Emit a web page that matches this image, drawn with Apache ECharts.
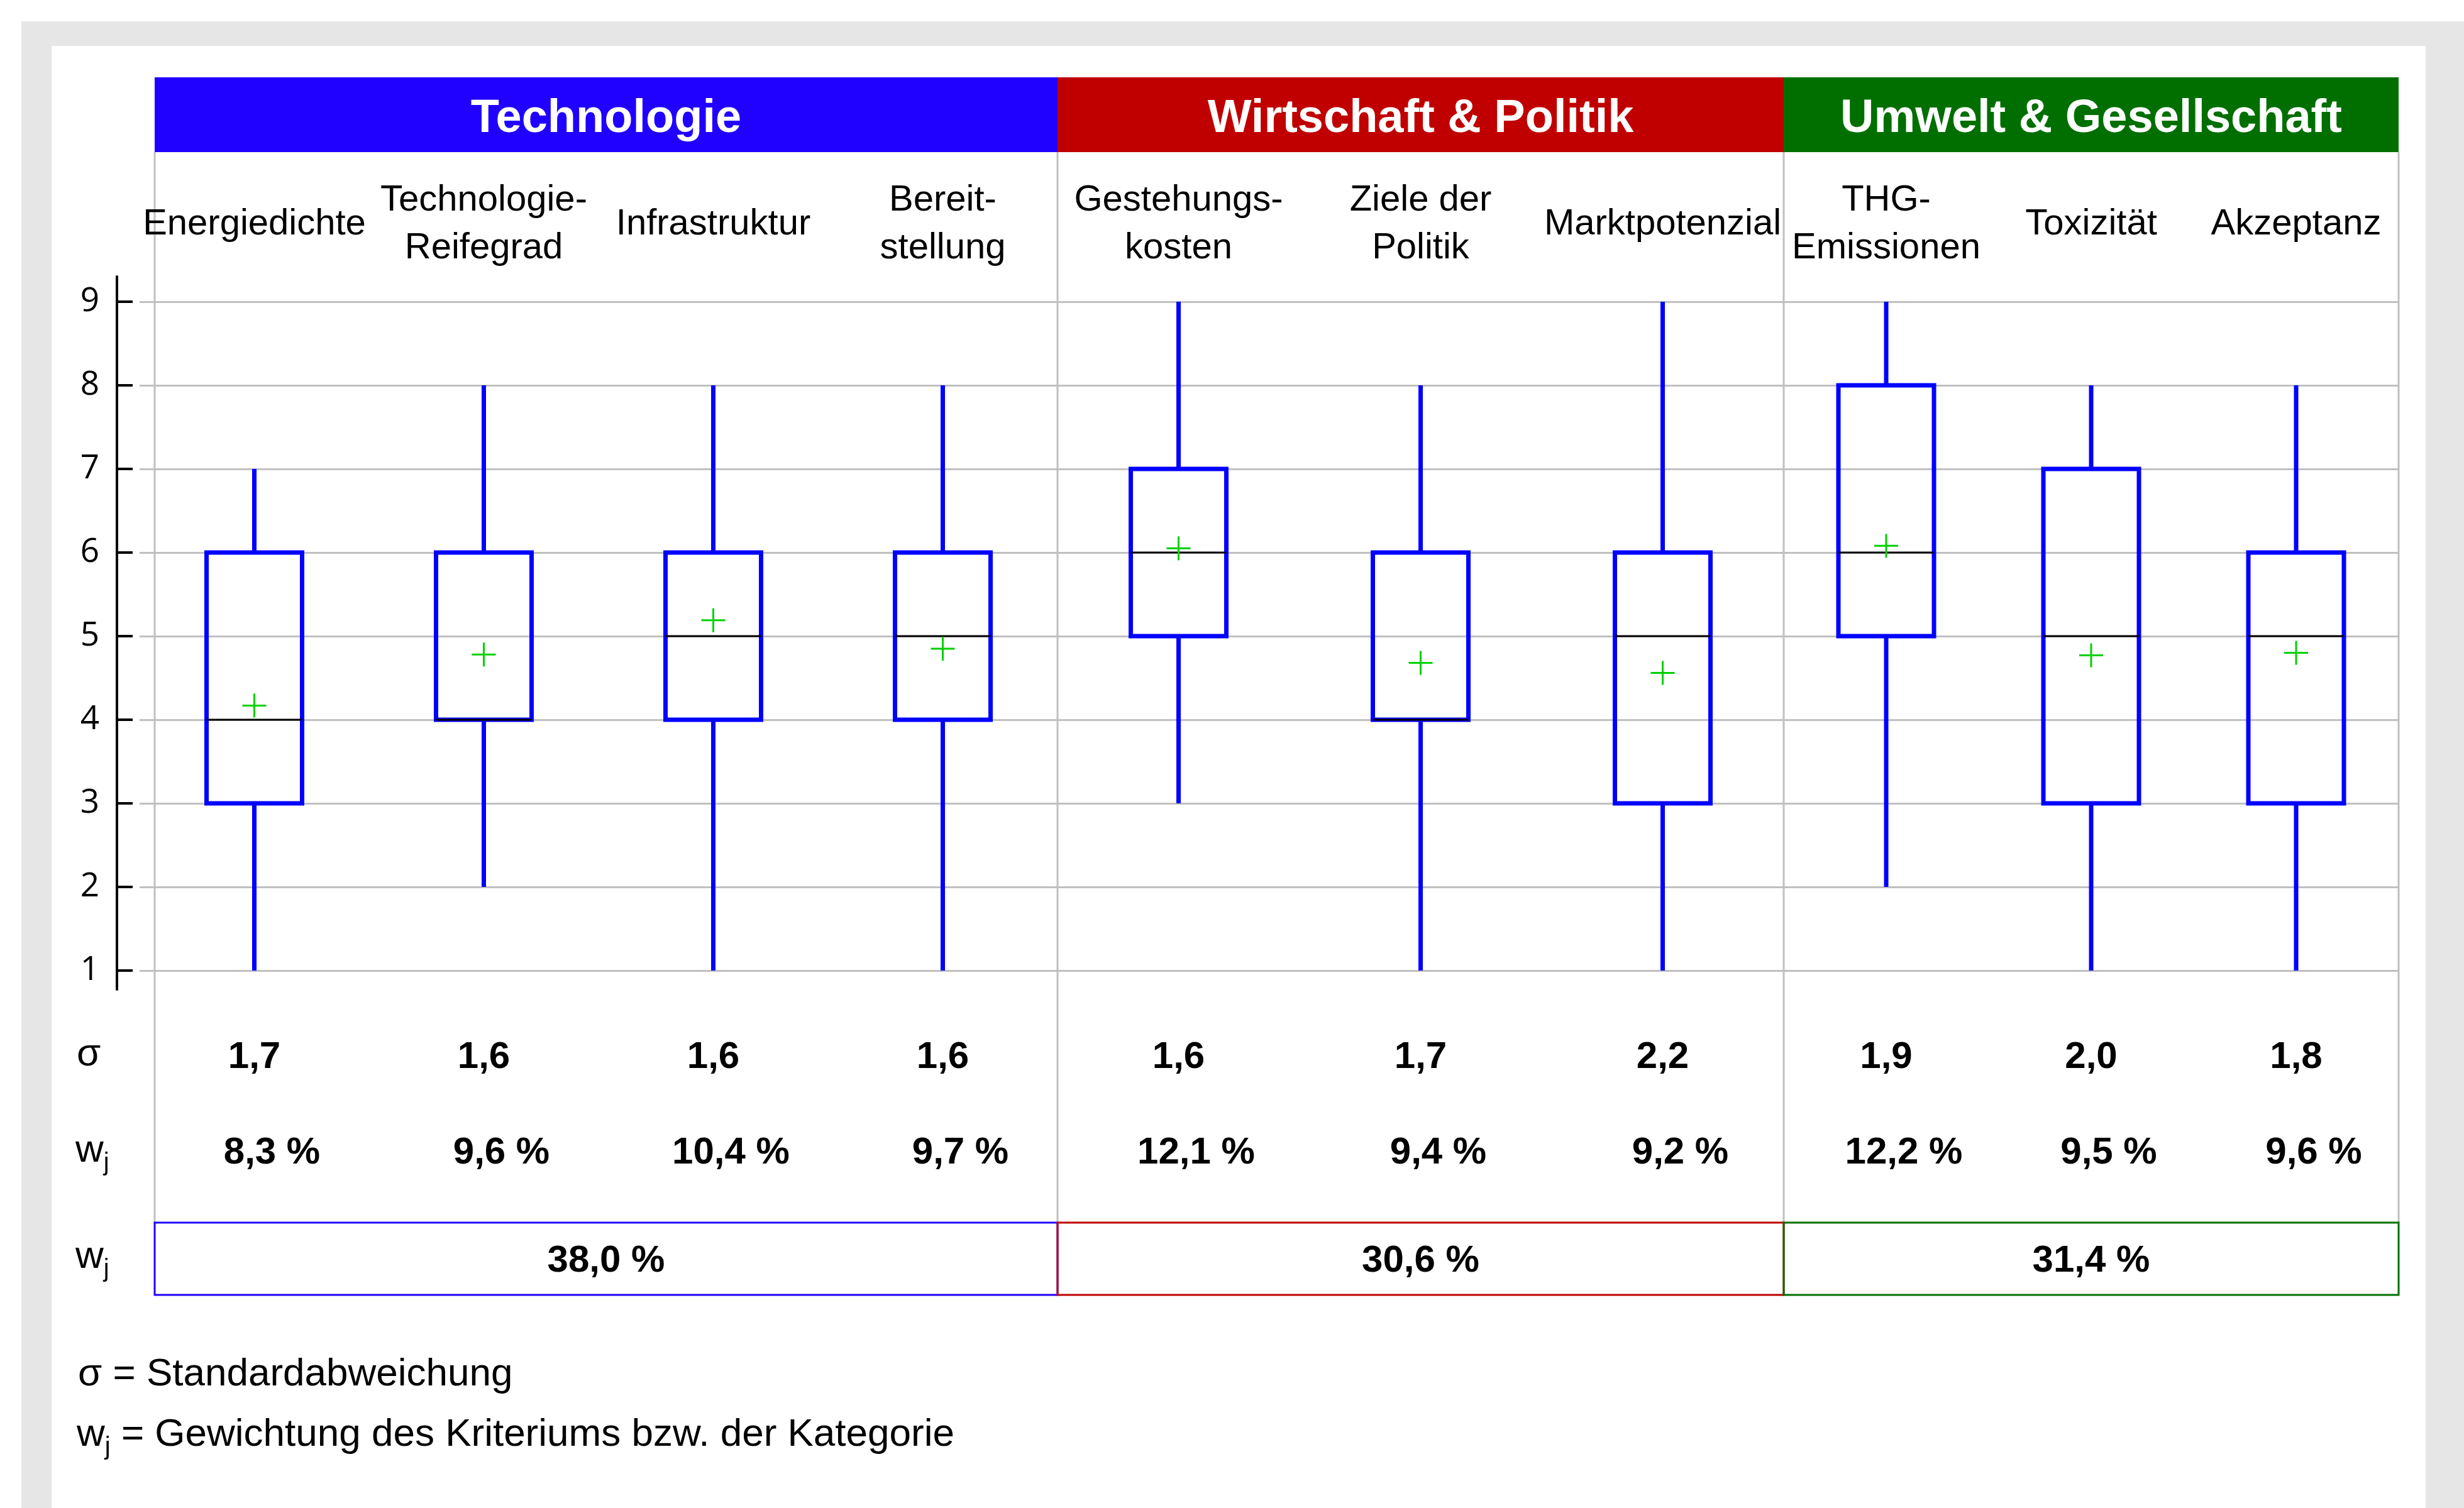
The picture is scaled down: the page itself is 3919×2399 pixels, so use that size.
<!DOCTYPE html>
<html lang="de">
<head>
<meta charset="UTF-8">
<title>Bewertung der Kriterien</title>
<script src="https://cdn.jsdelivr.net/npm/echarts@6.0.0/dist/echarts.min.js"></script>
<style>
  html, body { margin: 0; padding: 0; background: #fff; }
  #frame { position: absolute; left: 34px; top: 34px; width: 3885px; height: 2365px; background: #e6e6e6; }
  #panel { position: absolute; left: 82px; top: 73px; width: 3776px; height: 2326px; background: #fff; }
  #chart { position: absolute; left: 0; top: 0; width: 3919px; height: 2399px; }
</style>
</head>
<body>
<div id="frame"></div>
<div id="panel"></div>
<div id="chart"></div>
<script>
// Kategorien
var categories = ['Technologie', 'Wirtschaft & Politik', 'Umwelt & Gesellschaft'];
var categoryColors = ['#2000ff', '#c00000', '#006f00'];
var categorySizes = [4, 3, 3];
var categoryWeights = [38.0, 30.6, 31.4];

// Kriterien
var criteria = ['Energiedichte', 'Technologie-\nReifegrad', 'Infrastruktur', 'Bereit-\nstellung',
    'Gestehungs-\nkosten', 'Ziele der\nPolitik', 'Marktpotenzial',
    'THG-\nEmissionen', 'Toxizität', 'Akzeptanz'];

// Boxplot-Werte (Skala 1 - 9)
var mins    = [1, 2, 1, 1, 3, 1, 1, 2, 1, 1];
var q1s     = [3, 4, 4, 4, 5, 4, 3, 5, 3, 3];
var medians = [4, 4, 5, 5, 6, 4, 5, 6, 5, 5];
var q3s     = [6, 6, 6, 6, 7, 6, 6, 8, 7, 6];
var maxs    = [7, 8, 8, 8, 9, 8, 9, 9, 8, 8];
var means   = [4.17, 4.78, 5.19, 4.85, 6.05, 4.68, 4.56, 6.08, 4.77, 4.80];

// Standardabweichung und Gewichtung
var sigmas  = [1.7, 1.6, 1.6, 1.6, 1.6, 1.7, 2.2, 1.9, 2.0, 1.8];
var weights = [8.3, 9.6, 10.4, 9.7, 12.1, 9.4, 9.2, 12.2, 9.5, 9.6];

var fmt = function (v) { return v.toFixed(1).replace('.', ','); };

// Layout
var gridX = [222, 1682, 2837, 3815];   // Gitterlinien beginnen links vor der Tabellenlinie
var frameX = [246, 1682, 2837, 3815];
var plotTop = 480, plotBottom = 1544;
var BOX_W = 152;
var BLUE = '#0000ff';
var GREEN = '#00d000';
var FONT = '"Liberation Sans", Arial, sans-serif';

function renderBox(params, api) {
    var i = api.value(0);
    var yMin = api.coord([i, api.value(1)])[1];
    var yQ1 = api.coord([i, api.value(2)])[1];
    var p = api.coord([i, api.value(3)]);
    var yQ3 = api.coord([i, api.value(4)])[1];
    var yMax = api.coord([i, api.value(5)])[1];
    var yMean = api.coord([i, api.value(6)])[1];
    var cx = p[0], h = BOX_W / 2, c = 19;
    return {
        type: 'group',
        children: [
            { type: 'line', shape: { x1: cx, y1: yMax, x2: cx, y2: yQ3 }, style: { stroke: BLUE, lineWidth: 7 } },
            { type: 'line', shape: { x1: cx, y1: yQ1, x2: cx, y2: yMin }, style: { stroke: BLUE, lineWidth: 7 } },
            { type: 'rect', shape: { x: cx - h, y: yQ3, width: BOX_W, height: yQ1 - yQ3 },
              style: { fill: 'none', stroke: BLUE, lineWidth: 7 } },
            { type: 'line', shape: { x1: cx - h, y1: p[1], x2: cx + h, y2: p[1] }, style: { stroke: '#000', lineWidth: 3 } },
            { type: 'line', shape: { x1: cx - c, y1: yMean, x2: cx + c, y2: yMean }, style: { stroke: GREEN, lineWidth: 3 } },
            { type: 'line', shape: { x1: cx, y1: yMean - c, x2: cx, y2: yMean + c }, style: { stroke: GREEN, lineWidth: 3 } }
        ]
    };
}

var grids = [], xAxes = [], yAxes = [], series = [], graphics = [];
var hidden = { show: false };
var start = 0;

categories.forEach(function (cat, s) {
    var off = start;
    var n = categorySizes[s];
    var names = criteria.slice(off, off + n);

    grids.push({ left: gridX[s], top: plotTop, width: gridX[s + 1] - gridX[s], height: plotBottom - plotTop, outerBoundsMode: 'none' });

    // Kriterien oben
    xAxes.push({
        gridIndex: s, type: 'category', position: 'top', data: names,
        axisLine: hidden, axisTick: hidden, splitLine: hidden,
        axisLabel: { interval: 0, margin: 123, verticalAlign: 'middle', color: '#000',
            fontFamily: FONT, fontSize: 58, lineHeight: 76 }
    });
    // Zeile sigma
    xAxes.push({
        gridIndex: s, type: 'category', position: 'bottom', offset: 138, data: names,
        axisLine: hidden, axisTick: hidden, splitLine: hidden,
        axisLabel: { interval: 0, margin: 0, verticalAlign: 'middle', color: '#000',
            fontFamily: FONT, fontSize: 60, fontWeight: 'bold',
            formatter: function (v, i) { return fmt(sigmas[off + i]); } }
    });
    // Zeile w_j
    xAxes.push({
        gridIndex: s, type: 'category', position: 'bottom', offset: 290, data: names,
        axisLine: hidden, axisTick: hidden, splitLine: hidden,
        axisLabel: { interval: 0, margin: 0, verticalAlign: 'middle', color: '#000',
            fontFamily: FONT, fontSize: 60, fontWeight: 'bold', padding: [0, 0, 0, 56],
            formatter: function (v, i) { return fmt(weights[off + i]) + ' %'; } }
    });

    yAxes.push({
        gridIndex: s, type: 'value', min: 1, max: 9, interval: 1,
        offset: s === 0 ? gridX[0] - 186 : 0,
        axisLine: hidden,
        axisTick: { show: s === 0, inside: true, length: 25, lineStyle: { color: '#000', width: 4 } },
        axisLabel: { show: s === 0, margin: 28, color: '#000', fontFamily: '"Open Sans", sans-serif', fontSize: 53 },
        splitLine: { show: true, lineStyle: { color: '#c0c0c0', width: 3 } }
    });

    var data = [];
    for (var i = 0; i < n; i++) {
        var k = off + i;
        data.push([i, mins[k], q1s[k], medians[k], q3s[k], maxs[k], means[k]]);
    }
    series.push({
        type: 'custom', xAxisIndex: 3 * s, yAxisIndex: s, clip: false,
        renderItem: renderBox, encode: { x: 0, y: [1, 2, 3, 4, 5, 6] }, data: data
    });

    // Kopfzeile
    graphics.push({ type: 'rect', shape: { x: frameX[s], y: 123, width: frameX[s + 1] - frameX[s], height: 119 },
        style: { fill: categoryColors[s] } });
    graphics.push({ type: 'text', style: { text: cat, x: (frameX[s] + frameX[s + 1]) / 2, y: 190,
        textAlign: 'center', textVerticalAlign: 'middle', fill: '#fff', font: 'bold 74px ' + FONT } });

    // Gewichtung der Kategorie
    graphics.push({ type: 'rect', shape: { x: frameX[s], y: 1945, width: frameX[s + 1] - frameX[s], height: 115 },
        style: { fill: 'none', stroke: categoryColors[s], lineWidth: 3 }, z: 10 });
    graphics.push({ type: 'text', style: { text: fmt(categoryWeights[s]) + ' %', x: (frameX[s] + frameX[s + 1]) / 2, y: 2006,
        textAlign: 'center', textVerticalAlign: 'middle', fill: '#000', font: 'bold 60px ' + FONT } });

    start += n;
});

// durchgehende y-Achsenlinie (ragt ueber 1 und 9 hinaus)
grids.push({ left: 186, top: 440, width: 10, height: 1134, outerBoundsMode: 'none' });
xAxes.push({ gridIndex: 3, type: 'value', show: false });
yAxes.push({ gridIndex: 3, type: 'value', min: 0, max: 1,
    axisLine: { show: true, lineStyle: { color: '#000', width: 4 } },
    axisTick: hidden, axisLabel: hidden, splitLine: hidden });

// senkrechte Tabellenlinien
frameX.forEach(function (x) {
    graphics.push({ type: 'line', shape: { x1: x, y1: 242, x2: x, y2: 1945 },
        style: { stroke: '#c0c0c0', lineWidth: 3 } });
});

// Zeilenbeschriftungen und Legende
var sub = {
    w: { fontFamily: FONT, fontSize: 62, lineHeight: 80, fill: '#000' },
    j: { fontFamily: FONT, fontSize: 40, lineHeight: 30, verticalAlign: 'bottom', fill: '#000' }
};
graphics.push({ type: 'text', style: { text: 'σ', x: 122, y: 1678, textVerticalAlign: 'middle',
    fill: '#000', font: '62px ' + FONT } });
graphics.push({ type: 'text', style: { text: '{w|w}{j|j}', rich: sub, x: 120, y: 1831, textVerticalAlign: 'middle' } });
graphics.push({ type: 'text', style: { text: '{w|w}{j|j}', rich: sub, x: 120, y: 2000, textVerticalAlign: 'middle' } });
graphics.push({ type: 'text', style: { text: 'σ = Standardabweichung', x: 124, y: 2187, textVerticalAlign: 'middle',
    fill: '#000', font: '62px ' + FONT } });
graphics.push({ type: 'text', style: { text: '{w|w}{j|j}{w| = Gewichtung des Kriteriums bzw. der Kategorie}', rich: sub,
    x: 122, y: 2283, textVerticalAlign: 'middle' } });

var myChart = echarts.init(document.getElementById('chart'));
var option = {
    backgroundColor: 'transparent',
    animation: false,
    grid: grids,
    xAxis: xAxes,
    yAxis: yAxes,
    series: series,
    graphic: { elements: graphics }
};
myChart.setOption(option);
</script>
</body>
</html>
